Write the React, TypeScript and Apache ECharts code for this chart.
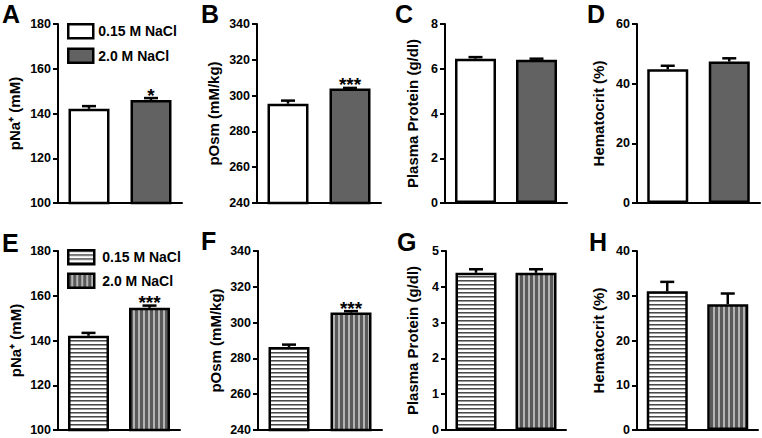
import React, { useEffect, useRef } from "react";
import * as echarts from "echarts";

const FONT = '"Liberation Sans", Arial, Helvetica, sans-serif';

const groups = ["0.15 M NaCl", "2.0 M NaCl"];
const panelLetters = ["A", "B", "C", "D", "E", "F", "G", "H"];
const yAxisNames = [
  "pNa⁺ (mM)",
  "pOsm (mM/kg)",
  "Plasma Protein (g/dl)",
  "Hematocrit (%)",
  "pNa⁺ (mM)",
  "pOsm (mM/kg)",
  "Plasma Protein (g/dl)",
  "Hematocrit (%)",
];
const means = [
  [142.1, 146.0],
  [295.5, 303.9],
  [6.45, 6.4],
  [44.8, 47.4],
  [142.1, 154.6],
  [286.4, 305.6],
  [4.39, 4.39],
  [31.0, 28.1],
];
const sems = [
  [1.2, 0.9],
  [1.7, 0.4],
  [0.07, 0.05],
  [1.2, 1.1],
  [1.3, 1.0],
  [1.3, 0.8],
  [0.1, 0.1],
  [2.1, 2.4],
];
const stars = [
  ["", "*"],
  ["", "***"],
  ["", ""],
  ["", ""],
  ["", "***"],
  ["", "***"],
  ["", ""],
  ["", ""],
];
const yMin = [100, 240, 0, 0, 100, 240, 0, 0];
const yMax = [180, 340, 8, 60, 180, 340, 5, 40];
const yInterval = [20, 20, 2, 20, 20, 20, 1, 10];

// layout (pixels)
const grids = [
  { left: 58, top: 24, width: 124, height: 179 },
  { left: 257, top: 24, width: 124, height: 179 },
  { left: 445, top: 24, width: 122, height: 179 },
  { left: 637, top: 24, width: 123, height: 179 },
  { left: 58, top: 251, width: 122, height: 179 },
  { left: 258, top: 251, width: 124, height: 179 },
  { left: 446, top: 251, width: 120, height: 179 },
  { left: 637, top: 251, width: 121, height: 179 },
];
const nameGaps = [36, 36, 25, 31, 35, 35, 26, 31];
const letterPos = [
  [2, 14], [201, 14], [395, 14], [587, 14],
  [2, 243], [201, 241], [397, 242], [589, 242],
];

const GRAY = "#626262";

function makeHPattern() {
  const c = document.createElement("canvas");
  c.width = 4;
  c.height = 4;
  const ctx = c.getContext("2d")!;
  ctx.fillStyle = "#ffffff";
  ctx.fillRect(0, 0, 4, 4);
  ctx.fillStyle = "#4a4a4a";
  ctx.fillRect(0, 0, 4, 1);
  ctx.fillStyle = "#9a9a9a";
  ctx.fillRect(0, 1, 4, 1);
  return { image: c, repeat: "repeat", imageWidth: 4, imageHeight: 4 } as any;
}
function makeVPattern() {
  const c = document.createElement("canvas");
  c.width = 5;
  c.height = 5;
  const ctx = c.getContext("2d")!;
  ctx.fillStyle = "#5a5a5a";
  ctx.fillRect(0, 0, 5, 5);
  ctx.fillStyle = "#b4b4b4";
  ctx.fillRect(3, 0, 2, 5);
  return { image: c, repeat: "repeat", imageWidth: 5, imageHeight: 5 } as any;
}

export default function App() {
  const ref = useRef<HTMLDivElement>(null);
  useEffect(() => {
    if (!ref.current) return;
    const chart = echarts.init(ref.current, null, { renderer: "svg" });
    const hPat = makeHPattern();
    const vPat = makeVPattern();
    const fills = (p: number) => (p < 4 ? ["#ffffff", GRAY] : [hPat, vPat]);

    const series: any[] = [];
    for (let p = 0; p < 8; p++) {
      const f = fills(p);
      for (let g = 0; g < 2; g++) {
        series.push({
          type: "bar",
          name: groups[g],
          xAxisIndex: p,
          yAxisIndex: p,
          data: means[p].map((v, i) => (i === g ? v : "-")),
          barWidth: 41,
          barGap: "-100%",
          itemStyle: { color: f[g], borderColor: "#000", borderWidth: 2.5 },
          z: 2,
        });
      }
      const st = stars[p];
      series.push({
        type: "custom",
        xAxisIndex: p,
        yAxisIndex: p,
        z: 5,
        data: means[p].map((v, i) => [i, v, sems[p][i]]),
        renderItem: (params: any, api: any) => {
          const x = api.value(0);
          const v = api.value(1);
          const e = api.value(2);
          const top = api.coord([x, v + e]);
          const base = api.coord([x, v]);
          const children: any[] = [
            {
              type: "line",
              shape: { x1: base[0], y1: base[1], x2: top[0], y2: top[1] },
              style: { stroke: "#000", lineWidth: 2.5 },
            },
            {
              type: "line",
              shape: { x1: top[0] - 7, y1: top[1], x2: top[0] + 7, y2: top[1] },
              style: { stroke: "#000", lineWidth: 2.5 },
            },
          ];
          const s = st[params.dataIndex];
          if (s) {
            children.push({
              type: "text",
              x: top[0],
              y: top[1] - 3,
              style: {
                text: s,
                fill: "#000",
                font: `bold 19px ${FONT}`,
                textAlign: "center",
                textVerticalAlign: "middle",
              },
            });
          }
          return { type: "group", children };
        },
      });
    }

    const option: any = {
      animation: false,
      backgroundColor: "#ffffff",
      grid: grids.map((g) => ({ ...g, containLabel: false })),
      xAxis: grids.map((_, p) => ({
        type: "category",
        gridIndex: p,
        data: groups,
        axisLine: { show: true, onZero: false, lineStyle: { color: "#000", width: 2 } },
        axisTick: { show: false },
        axisLabel: { show: false },
        splitLine: { show: false },
      })),
      yAxis: grids.map((_, p) => ({
        type: "value",
        gridIndex: p,
        min: yMin[p],
        max: yMax[p],
        interval: yInterval[p],
        name: yAxisNames[p],
        nameLocation: "middle",
        nameGap: nameGaps[p],
        nameTextStyle: { fontFamily: FONT, fontWeight: "bold", fontSize: 15, color: "#000" },
        axisLine: { show: true, lineStyle: { color: "#000", width: 2 } },
        axisTick: { show: true, length: 5, lineStyle: { color: "#000", width: 2 } },
        axisLabel: { fontFamily: FONT, fontWeight: "bold", fontSize: 12.5, color: "#000", margin: 7 },
        splitLine: { show: false },
      })),
      legend: [
        {
          orient: "vertical",
          left: 67,
          top: 23,
          padding: 0,
          itemWidth: 25,
          itemHeight: 14,
          itemGap: 8,
          icon: "rect",
          selectedMode: false,
          textStyle: { fontFamily: FONT, fontWeight: "bold", fontSize: 14, color: "#000" },
          data: [
            { name: groups[0], itemStyle: { color: "#ffffff", borderColor: "#000", borderWidth: 2.5 } },
            { name: groups[1], itemStyle: { color: GRAY, borderColor: "#000", borderWidth: 2.5 } },
          ],
        },
        {
          orient: "vertical",
          left: 67,
          top: 249,
          padding: 0,
          itemWidth: 26,
          itemHeight: 14,
          itemGap: 7,
          icon: "rect",
          selectedMode: false,
          textStyle: { fontFamily: FONT, fontWeight: "bold", fontSize: 14, color: "#000", padding: [0, 0, 0, 3] },
          data: [
            { name: groups[0], itemStyle: { color: hPat, borderColor: "#000", borderWidth: 2.5 } },
            { name: groups[1], itemStyle: { color: vPat, borderColor: "#000", borderWidth: 2.5 } },
          ],
        },
      ],
      graphic: panelLetters.map((L, i) => ({
        type: "text",
        x: letterPos[i][0],
        y: letterPos[i][1],
        style: {
          text: L,
          fill: "#000",
          font: `bold 25px ${FONT}`,
          textAlign: "left",
          textVerticalAlign: "middle",
        },
      })),
      series,
    };
    chart.setOption(option);
    return () => chart.dispose();
  }, []);
  return (
    <div
      ref={ref}
      style={{ position: "fixed", left: 0, top: 0, width: 762, height: 438, background: "#fff" }}
    />
  );
}
